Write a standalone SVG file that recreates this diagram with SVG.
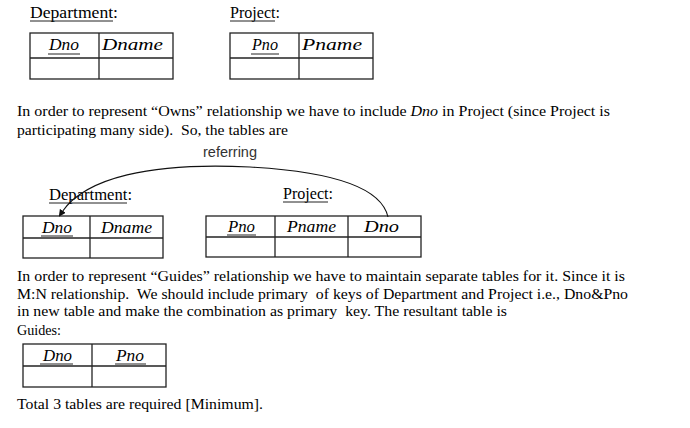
<svg xmlns="http://www.w3.org/2000/svg" width="690" height="428" viewBox="0 0 690 428">
<style>
.p{font-family:"Liberation Serif","Times New Roman",serif;font-size:15px;fill:#000}
.lbl{font-family:"Liberation Serif","Times New Roman",serif;font-size:16px;fill:#000}
.h{font-family:"Liberation Serif","Times New Roman",serif;font-style:italic;font-size:16px;fill:#000}
.tb{fill:none;stroke:#222;stroke-width:1.3}
.ul{stroke:#222;stroke-width:1}
.ref{font-family:"Liberation Sans",Arial,sans-serif;font-size:14px;fill:#333}
.con{fill:none;stroke:#111;stroke-width:1.1}
</style>
<defs>
<marker id="ah" viewBox="0 0 10 10" refX="2" refY="5" markerWidth="7" markerHeight="7" orient="auto" markerUnits="userSpaceOnUse">
<path d="M0,0 L10,5 L0,10 z" fill="#111"/>
</marker>
</defs>
<rect width="690" height="428" fill="#fff"/>

<!-- Section 1 -->
<g id="dept1-label">
<text class="lbl" x="30" y="18" textLength="88" lengthAdjust="spacingAndGlyphs">Department:</text>
<line class="ul" x1="30" y1="21" x2="113" y2="21"/>
</g>
<g id="proj1-label">
<text class="lbl" x="230" y="18" textLength="50" lengthAdjust="spacingAndGlyphs">Project:</text>
<line class="ul" x1="230" y1="21" x2="275" y2="21"/>
</g>
<g id="dept1-table">
<rect class="tb" x="30" y="33" width="143" height="46"/>
<line class="tb" x1="30" y1="58" x2="173" y2="58"/>
<line class="tb" x1="99" y1="33" x2="99" y2="79"/>
<text class="h" x="49" y="50" textLength="30" lengthAdjust="spacingAndGlyphs">Dno</text>
<line class="ul" x1="48" y1="54" x2="80" y2="54"/>
<text class="h" x="102" y="50" textLength="61" lengthAdjust="spacingAndGlyphs">Dname</text>
</g>
<g id="proj1-table">
<rect class="tb" x="230" y="33" width="143" height="46"/>
<line class="tb" x1="230" y1="58" x2="373" y2="58"/>
<line class="tb" x1="299" y1="33" x2="299" y2="79"/>
<text class="h" x="252" y="50" textLength="26" lengthAdjust="spacingAndGlyphs">Pno</text>
<line class="ul" x1="251" y1="54" x2="279" y2="54"/>
<text class="h" x="302" y="50" textLength="60" lengthAdjust="spacingAndGlyphs">Pname</text>
</g>

<g id="para1">
<text class="p" x="17" y="116" textLength="593" lengthAdjust="spacingAndGlyphs">In order to represent “Owns” relationship we have to include <tspan font-style="italic">Dno</tspan> in Project (since Project is</text>
<text class="p" x="17" y="134.5" textLength="271" lengthAdjust="spacingAndGlyphs" style="white-space:pre">participating many side).  So, the tables are</text>
</g>

<!-- Section 2 -->
<g id="dept2-label">
<text class="lbl" x="49" y="200" textLength="83" lengthAdjust="spacingAndGlyphs">Department:</text>
<line class="ul" x1="49" y1="203" x2="127" y2="203"/>
</g>
<g id="proj2-label">
<text class="lbl" x="283" y="199" textLength="50" lengthAdjust="spacingAndGlyphs">Project:</text>
<line class="ul" x1="283" y1="202" x2="328" y2="202"/>
</g>
<g id="dept2-table">
<rect class="tb" x="23" y="216" width="140" height="42"/>
<line class="tb" x1="23" y1="238" x2="163" y2="238"/>
<line class="tb" x1="90" y1="216" x2="90" y2="258"/>
<text class="h" x="42" y="232.5" textLength="30" lengthAdjust="spacingAndGlyphs">Dno</text>
<line class="ul" x1="41" y1="236" x2="73" y2="236"/>
<text class="h" x="101" y="232.5" textLength="51" lengthAdjust="spacingAndGlyphs">Dname</text>
</g>
<g id="proj2-table">
<rect class="tb" x="206" y="216" width="215" height="41"/>
<line class="tb" x1="206" y1="237" x2="421" y2="237"/>
<line class="tb" x1="275" y1="216" x2="275" y2="257"/>
<line class="tb" x1="348" y1="216" x2="348" y2="257"/>
<text class="h" x="228" y="232" textLength="27" lengthAdjust="spacingAndGlyphs">Pno</text>
<line class="ul" x1="227" y1="235" x2="256" y2="235"/>
<text class="h" x="287" y="232" textLength="49" lengthAdjust="spacingAndGlyphs">Pname</text>
<text class="h" x="364" y="232" textLength="35" lengthAdjust="spacingAndGlyphs">Dno</text>
</g>

<g id="connectors">
<path class="con" d="M388,217 C382,190 340,172 250,167 C150,162 85,178 62,212" marker-end="url(#ah)"/>
<text class="ref" x="203" y="157" textLength="54" lengthAdjust="spacingAndGlyphs">referring</text>
</g>

<!-- Section 3 -->
<g id="para2">
<text class="p" x="17" y="281" textLength="608" lengthAdjust="spacingAndGlyphs">In order to represent “Guides” relationship we have to maintain separate tables for it. Since it is</text>
<text class="p" x="17" y="298.5" textLength="611" lengthAdjust="spacingAndGlyphs" style="white-space:pre">M:N relationship.  We should include primary  of keys of Department and Project i.e., Dno&amp;Pno</text>
<text class="p" x="17" y="316" textLength="490" lengthAdjust="spacingAndGlyphs" style="white-space:pre">in new table and make the combination as primary  key. The resultant table is</text>
<text class="p" x="17" y="334.5" textLength="44" lengthAdjust="spacingAndGlyphs">Guides:</text>
</g>
<g id="guides-table">
<rect class="tb" x="23" y="344" width="143" height="43"/>
<line class="tb" x1="23" y1="366" x2="166" y2="366"/>
<line class="tb" x1="92" y1="344" x2="92" y2="387"/>
<text class="h" x="43" y="361" textLength="29" lengthAdjust="spacingAndGlyphs">Dno</text>
<line class="ul" x1="40" y1="364" x2="73" y2="364"/>
<text class="h" x="116" y="361" textLength="28" lengthAdjust="spacingAndGlyphs">Pno</text>
<line class="ul" x1="115" y1="364" x2="146" y2="364"/>
</g>
<g id="summary">
<text class="p" x="17" y="409" textLength="246" lengthAdjust="spacingAndGlyphs">Total 3 tables are required [Minimum].</text>
</g>
</svg>
